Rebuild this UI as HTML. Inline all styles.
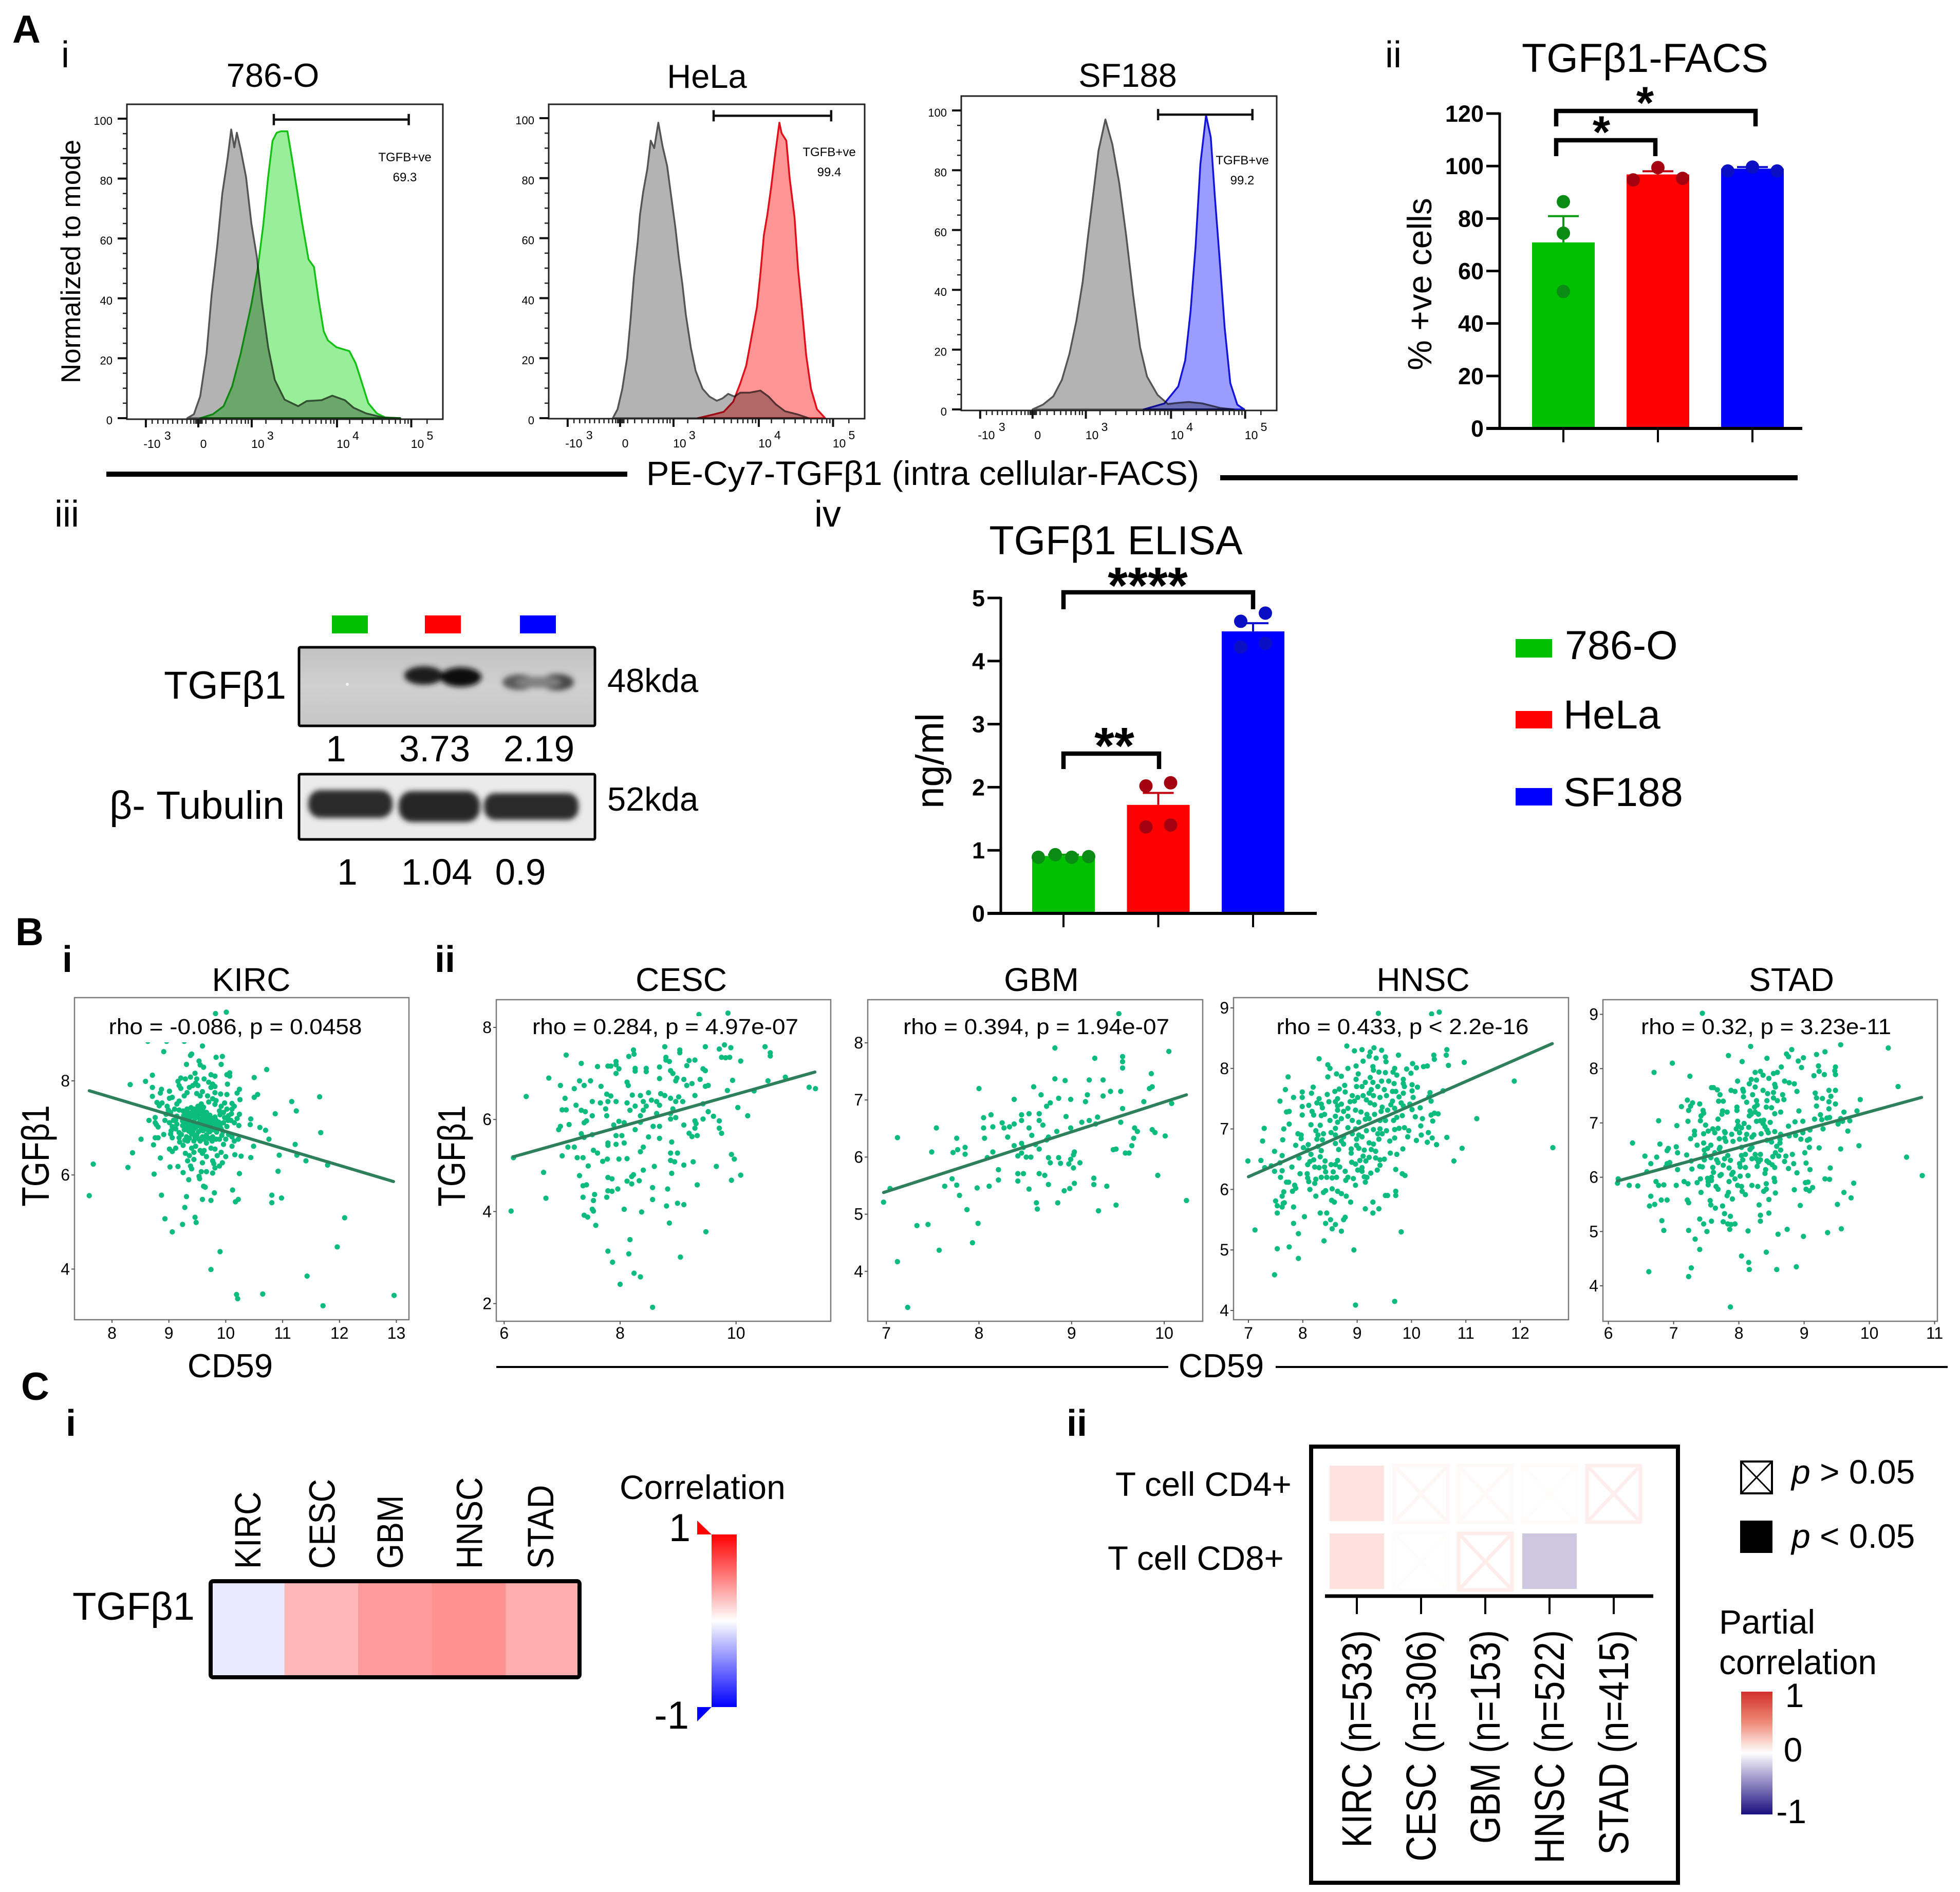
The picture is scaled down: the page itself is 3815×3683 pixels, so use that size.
<!DOCTYPE html>
<html lang="en">
<head>
<meta charset="utf-8">
<title>TGFβ1 expression figure</title>
<style>
html,body{margin:0;padding:0;background:#fff;width:3815px;height:3683px;overflow:hidden}
svg{display:block}
text{font-family:"Liberation Sans",sans-serif;fill:#000}
.b{font-weight:700}
</style>
</head>
<body>
<svg id="figure" xmlns="http://www.w3.org/2000/svg" width="3815" height="3683" viewBox="0 0 3815 3683">
<defs>
<filter id="bandBlur" x="-30%" y="-60%" width="160%" height="220%"><feGaussianBlur stdDeviation="5"/></filter>
<linearGradient id="corrGrad" x1="0" y1="0" x2="0" y2="1"><stop offset="0" stop-color="#ff0000"/><stop offset=".5" stop-color="#ffffff"/><stop offset="1" stop-color="#0000ff"/></linearGradient>
<linearGradient id="partialGrad" x1="0" y1="0" x2="0" y2="1"><stop offset="0" stop-color="#d2302a"/><stop offset=".25" stop-color="#ee8a78"/><stop offset=".5" stop-color="#ffffff"/><stop offset=".75" stop-color="#8d84c0"/><stop offset="1" stop-color="#1a0f80"/></linearGradient>
<linearGradient id="blot1Grad" x1="0" y1="0" x2="0" y2="1"><stop offset="0" stop-color="#c2c2c2"/><stop offset=".5" stop-color="#d0d0d0"/><stop offset="1" stop-color="#c6c6c6"/></linearGradient>
<clipPath id="blot1Clip"><rect x="582" y="1260" width="576" height="153"/></clipPath>
<clipPath id="blot2Clip"><rect x="582" y="1507" width="576" height="127"/></clipPath>
</defs>
<rect width="3815" height="3683" fill="#fff"/>

<text class="b" x="24" y="83" font-size="76">A</text>
<text x="127" y="131" font-size="72" text-anchor="middle">i</text>
<text x="2712" y="131" font-size="72" text-anchor="middle">ii</text>
<text x="130" y="1025" font-size="72" text-anchor="middle">iii</text>
<text x="1611" y="1025" font-size="72" text-anchor="middle">iv</text>
<text class="b" x="30" y="1840" font-size="76">B</text>
<text class="b" x="131" y="1892" font-size="72" text-anchor="middle">i</text>
<text class="b" x="866" y="1892" font-size="72" text-anchor="middle">ii</text>
<text class="b" x="41" y="2725" font-size="76">C</text>
<text class="b" x="138" y="2795" font-size="72" text-anchor="middle">i</text>
<text class="b" x="2096" y="2795" font-size="72" text-anchor="middle">ii</text>

<text transform="rotate(-90 156 509)" x="156" y="509" font-size="53" text-anchor="middle">Normalized to mode</text>
<rect x="207" y="918" width="1014" height="10" fill="#000"/>
<text x="1258" y="944" font-size="66" textLength="1076" lengthAdjust="spacingAndGlyphs">PE-Cy7-TGFβ1 (intra cellular-FACS)</text>
<rect x="2375" y="925" width="1124" height="10" fill="#000"/>

<g>
<rect x="646" y="1198" width="70" height="35" fill="#00c000"/>
<rect x="827" y="1198" width="70" height="35" fill="#ff0000"/>
<rect x="1012" y="1198" width="70" height="35" fill="#0000ff"/>
<rect x="582" y="1260" width="576" height="153" fill="url(#blot1Grad)"/>
<g clip-path="url(#blot1Clip)" filter="url(#bandBlur)">
<ellipse cx="825" cy="1315" rx="38" ry="18" fill="#1c1c1c"/>
<ellipse cx="897" cy="1318" rx="40" ry="19" fill="#111"/>
<ellipse cx="1010" cy="1328" rx="32" ry="15" fill="#5c5c5c"/>
<ellipse cx="1085" cy="1328" rx="32" ry="16" fill="#4a4a4a"/>
<ellipse cx="1048" cy="1328" rx="44" ry="11" fill="#808080"/>
</g>
<circle cx="676" cy="1332" r="3" fill="#f4f4f4"/>
<rect x="582" y="1260" width="576" height="153" rx="3" fill="none" stroke="#000" stroke-width="5"/>
<rect x="582" y="1507" width="576" height="127" fill="#ebebeb"/>
<g clip-path="url(#blot2Clip)" filter="url(#bandBlur)">
<rect x="600" y="1538" width="164" height="54" rx="24" fill="#2b2b2b"/>
<rect x="776" y="1540" width="158" height="60" rx="26" fill="#262626"/>
<rect x="942" y="1544" width="184" height="52" rx="22" fill="#2a2a2a"/>
</g>
<rect x="582" y="1507" width="576" height="127" rx="3" fill="none" stroke="#000" stroke-width="5"/>
<text x="557" y="1360" font-size="76" text-anchor="end">TGFβ1</text>
<text x="554" y="1594" font-size="77" text-anchor="end">β- Tubulin</text>
<text x="1182" y="1347" font-size="65">48kda</text>
<text x="1182" y="1578" font-size="65">52kda</text>
<text x="654" y="1482" font-size="71" text-anchor="middle">1</text>
<text x="846" y="1482" font-size="71" text-anchor="middle">3.73</text>
<text x="1049" y="1482" font-size="71" text-anchor="middle">2.19</text>
<text x="676" y="1722" font-size="71" text-anchor="middle">1</text>
<text x="850" y="1722" font-size="71" text-anchor="middle">1.04</text>
<text x="1013" y="1722" font-size="71" text-anchor="middle">0.9</text>
</g>

<g>
<rect x="2950" y="1244" width="71" height="36" fill="#00c000"/>
<text x="3046" y="1283" font-size="79">786-O</text>
<rect x="2950" y="1384" width="71" height="34" fill="#ff0000"/>
<text x="3043" y="1418" font-size="79">HeLa</text>
<rect x="2950" y="1534" width="71" height="34" fill="#0000ff"/>
<text x="3043" y="1569" font-size="79">SF188</text>
</g>

<text x="448" y="2681" font-size="65" text-anchor="middle">CD59</text>
<rect x="966" y="2659" width="1308" height="4" fill="#000"/>
<text x="2377" y="2681" font-size="65" text-anchor="middle">CD59</text>
<rect x="2483" y="2659" width="1308" height="4" fill="#000"/>
<text transform="translate(95 2250) rotate(-90) scale(1 1.19)" font-size="63" text-anchor="middle">TGFβ1</text>
<text transform="translate(905 2250) rotate(-90) scale(1 1.19)" font-size="63" text-anchor="middle">TGFβ1</text>

<text x="141" y="3153" font-size="76">TGFβ1</text>
<text x="1206" y="2918" font-size="66">Correlation</text>
<polygon points="1357,2960 1385,2987 1357,2987" fill="#ff0000"/>
<rect x="1385" y="2987" width="49" height="336" fill="url(#corrGrad)"/>
<polygon points="1357,3323 1385,3323 1357,3351" fill="#0000ff"/>
<text x="1323" y="3000" font-size="76" text-anchor="middle">1</text>
<text x="1341" y="3365" font-size="76" text-anchor="end">-1</text>

<text x="2171" y="2912" font-size="65.5">T cell CD4+</text>
<text x="2156" y="3056" font-size="65.5">T cell CD8+</text>
<g>
<rect x="3389" y="2845" width="60" height="62" fill="#fff" stroke="#000" stroke-width="4"/>
<path d="M3389 2845L3449 2907M3449 2845L3389 2907" stroke="#000" stroke-width="3" fill="none"/>
<text x="3487" y="2888" font-size="66"><tspan font-style="italic">p</tspan> &gt; 0.05</text>
<rect x="3387" y="2960" width="63" height="63" fill="#000"/>
<text x="3487" y="3013" font-size="66"><tspan font-style="italic">p</tspan> &lt; 0.05</text>
</g>
<text x="3346" y="3180" font-size="66">Partial</text>
<text x="3346" y="3259" font-size="68" textLength="307" lengthAdjust="spacingAndGlyphs">correlation</text>
<rect x="3389" y="3293" width="61" height="239" fill="url(#partialGrad)"/>
<text x="3493" y="3323" font-size="66" text-anchor="middle">1</text>
<text x="3490" y="3429" font-size="66" text-anchor="middle">0</text>
<text x="3516" y="3549" font-size="66" text-anchor="end">-1</text>
</svg>

<script>
// ---------- FACS histograms (channel 0-1000 across the axis, % of mode) ----------
const facsTickChannels=[60,226,395,665,900];
const facsTickBase=['-10','0','10','10','10'];
const facsTickExp=['3','','3','4','5'];
const facsMinorChannels=[80,98,115,130,145,160,175,190,202,212,218,222,230,234,238,250,272,295,315,332,348,362,375,384,440,490,525,555,578,598,615,630,645,655,705,745,780,808,830,850,865,880,890,950];
const facsPercentTicks=[0,20,40,60,80,100];
const facsPercentMinor=[5,10,15,25,30,35,45,50,55,65,70,75,85,90,95];

const o786GrayChannel=[191,212,232,252,268,286,302,319,330,340,348,360,377,394,411,427,447,468,499,542,569,616,650,690,717,757,811,865];
const o786GrayMode=[0,1.3,7.3,21.5,41,57.6,75,87,96.4,90.4,95.3,89.8,80.5,65,54,39,23.7,12.8,6.2,4,5.7,6,7.5,6,3.5,1.6,.2,0];
const o786StainChannel=[232,272,306,333,360,394,414,431,447,461,474,488,508,522,535,555,575,592,606,623,636,663,704,724,744,764,791,818,865];
const o786StainMode=[0,1.3,4,10.6,21.5,38,50,64,80.5,92.6,95.3,95.8,95.8,87,78.4,65,53,50.5,40,29,26,23.7,22.4,18.3,11.7,5,1.6,.2,0];
const helaGrayChannel=[203,218,233,248,259,270,282,289,299,312,323,334,347,360,375,388,401,412,423,434,450,465,487,509,532,550,568,588,606,636,670,696,718,748,786,823];
const helaGrayMode=[0,3,9.8,20,32.8,47.3,59,67.8,75.4,83,92.5,90,98.5,90.8,84,73.7,63.5,53.3,44.8,34.5,23.4,15.8,9.8,7.2,5.8,6.6,8.1,7.2,8.5,8.5,9.2,7.2,4.7,2.3,1.3,0];
const helaStainChannel=[472,524,554,584,606,625,640,659,670,681,692,704,715,730,737,752,763,778,789,801,815,830,849,875];
const helaStainMode=[0,1.3,2.1,5.5,11.5,17.5,26,37,48,61,67.8,77,86.5,98.5,95,92.5,79.7,67,50,37,20.9,9.8,3,0];
const sfGrayChannel=[226,259,292,319,343,365,385,402,420,435,457,479,501,523,545,567,589,622,655,688,721,765,820,864];
const sfGrayMode=[0,1.6,4.4,9.9,18.6,29.6,42.7,58,73.4,86.5,97,88.7,75.6,58,38.3,20.8,11,4.9,1.8,2.2,2.5,2,.5,0];
const sfStainChannel=[578,644,688,710,727,743,758,776,791,804,820,835,853,875,897];
const sfStainMode=[0,2,7.7,16.4,32.9,54.8,82,98.4,91,71,49,27.4,8.8,1.6,0];

// ---------- bar charts ----------
const facsBarCategories=['786-O','HeLa','SF188'];
const facsBarValues=[70.9,96.8,99];
const facsBarErrors=[10,1.2,0.6];
const facsDots786=[86.4,74.4,52.2];
const facsDotsHela=[94.7,99.4,95.3];
const facsDotsSf=[98.1,99.6,98.1];
const facsTicks=[0,20,40,60,80,100,120];
const elisaCategories=['786-O','HeLa','SF188'];
const elisaValues=[0.91,1.72,4.47];
const elisaErrors=[0.02,0.19,0.13];
const elisaDots786=[0.89,0.93,0.89,0.90];
const elisaDotsHela=[2.02,2.07,1.37,1.40];
const elisaDotsSf=[4.63,4.76,4.22,4.28];
const elisaTicks=[0,1,2,3,4,5];

// ---------- scatter data: [CD59, TGFB1] ----------
const kircPoints=[[7.6,5.56],[7.67,6.23],[8.36,6.47],[8.28,6.16],[8.32,7.92],[8.59,7.99],[8.71,8.12],[8.91,8.62],[9.59,8.74],[9.82,9.43],[10.01,9.46],[9.38,8.54],[9.4,8.57],[9.83,8.5],[9.94,8.52],[9.31,8.35],[9.53,8.42],[9.55,8.34],[9.61,8.29],[9.92,8.35],[10.72,8.24],[10.5,8.07],[10.5,7.65],[10.56,7.71],[11.65,7.66],[11.16,7.56],[10.87,7.3],[11.24,7.36],[11.67,6.9],[11.22,6.65],[10.94,6.42],[8.63,8.84],[8.96,8.84],[9.27,8.84],
[9.21,8.06],[9.29,8.04],[9.16,7.99],[9.18,7.9],[9.21,7.84],[9.38,8.08],[9.46,8.16],[9.49,8.04],[9.62,8.04],[9.74,8.13],[9.81,8.1],[10.02,8.13],[10.07,8.17],[10.07,8.1],[9.42,7.9],[9.47,7.95],[9.36,7.86],[9.51,7.9],[9.7,7.97],[9.77,7.93],[9.81,7.88],[9.74,7.86],[10.03,7.93],[8.87,7.82],[8.85,7.74],[9.01,7.78],[8.71,7.86],[8.71,7.67],[9.06,7.65],[9.01,7.63],[9.32,7.75],[9.27,7.68],[9.49,7.73],[9.59,7.77],[9.68,7.68],[9.81,7.75],[9.91,7.72],[10.02,7.71],[10.24,7.82],[10.2,7.74],[10.25,7.6],[9.77,7.62],[9.83,7.58],[9.81,7.5],[9.7,7.55],[9.55,7.68],[9.18,7.57],[9.14,7.51],[8.79,7.54],[8.83,7.47],[8.88,7.53],[8.97,7.46],[9.98,7.53],[10.11,7.52],[10.15,7.46],[9.92,7.46],[10.02,7.4],[10.11,7.4],[9.89,7.36],[9.96,7.33],[10.24,7.29],[10.2,7.2],[8.99,7.38],[9.03,7.33],[9.1,7.4],[9.18,7.38],[8.95,7.29],[8.76,7.22],[8.65,7.16],[8.76,7.11],[8.78,7.07],[8.81,7.02],[8.93,7.16],[9.01,7.11],[9.08,7.16],[9.14,7.25],
[9.57,7.51],[9.51,7.46],[9.61,7.44],[9.44,7.4],[9.32,7.4],[9.55,7.38],[9.66,7.33],[9.29,7.31],[9.38,7.31],[9.47,7.29],[9.59,7.27],[9.72,7.27],[9.27,7.22],[9.36,7.2],[9.46,7.2],[9.55,7.18],[9.64,7.18],[9.77,7.2],[9.83,7.16],[9.29,7.11],[9.4,7.09],[9.51,7.09],[9.62,7.07],[9.74,7.07],[9.85,7.05],[9.31,7],[9.44,6.98],[9.57,6.98],[9.68,6.96],[9.79,6.96],[9.92,6.98],[9.96,7.11],[10.04,7.16],[10.09,7.16],[10.15,7.11],[10.23,7.05],[10.02,7.03],[9.34,7.26],[9.42,7.35],[9.52,7.33],[9.6,7.22],[9.7,7.12],[9.35,7.05],[9.48,7.02],[9.58,7.13],
[9.25,7.36],[9.33,7.34],[9.39,7.43],[9.47,7.37],[9.53,7.42],[9.6,7.36],[9.64,7.28],[9.7,7.22],[9.26,7.26],[9.31,7.17],[9.41,7.25],[9.5,7.24],[9.56,7.3],[9.63,7.23],[9.68,7.27],[9.76,7.14],[9.81,7.23],[9.24,7.15],[9.34,7.13],[9.44,7.14],[9.54,7.13],[9.6,7.15],[9.66,7.09],[9.73,7.17],[9.8,7.1],[9.88,7.12],[9.24,7.05],[9.38,7.01],[9.46,7.06],[9.55,7.04],[9.64,7.02],[9.72,7.01],[9.82,7.01],[9.9,7.04],[9.27,6.96],[9.35,6.93],[9.42,6.92],[9.52,6.92],[9.6,6.94],[9.72,6.92],[9.84,6.91],[9.95,6.92],[9.22,6.86],[9.28,6.74],[9.36,6.78],[9.46,6.8],[9.52,6.77],[9.62,6.76],[9.7,6.78],[9.83,6.76],[9.93,6.84],[10.05,6.86],[10.05,7.26],[9.98,7.22],[9.9,7.28],[10.1,7.3],[9.14,7.08],[9.12,7.17],[9.06,7.03],[9.12,6.98],
[9.04,6.94],[9.03,6.87],[8.91,6.86],[9.06,6.79],[8.76,6.79],[8.81,6.79],[8.51,6.76],[8.73,6.64],[9.18,6.9],[9.18,6.79],[9.19,6.7],[9.25,6.63],[9.31,6.81],[9.4,6.87],[9.49,6.85],[9.59,6.81],[9.66,6.85],[9.77,6.81],[9.33,6.72],[9.44,6.72],[9.55,6.72],[9.66,6.68],[9.76,6.72],[9.89,6.76],[10,6.76],[9.96,6.65],[10.11,6.81],[10.22,6.76],[10.15,6.72],[10.11,6.61],[9.47,6.61],[9.4,6.57],[9.55,6.52],[9.74,6.57],[9.81,6.55],[9.62,6.52],[9.01,6.55],[9.06,6.5],[9.12,6.57],[9.29,6.46],[9.36,6.41],[9.44,6.48],[9.59,6.46],[9.66,6.39],[9.92,6.48],[9.85,6.41],[10,6.39],[10.16,6.43],[10.27,6.4],[10.44,6.37],[9.33,6.3],[9.44,6.33],[9.59,6.26],[9.77,6.3],[9.79,6.24],[9.94,6.26],[9.89,6.19],[9.38,6.19],[9.4,6.13],[8.85,6.36],[9.02,6.17],[9.16,6.18],[8.74,6.02],[9.25,6.05],[9.57,6.07],[9.66,6.07],[9.77,6.04],[9.81,6.15],[10.24,6.03],[9.53,5.97],[9.54,5.92],[9.35,5.9],[9.61,5.76],[9.64,5.74],[9.8,5.62],[10.12,5.68],[8.87,5.57],[9.31,5.54],[9.59,5.48],[9.74,5.46],[10.17,5.43],[10.22,5.48],[9.28,5.31],[8.93,5.07],[9.46,5.1],[9.48,4.99],[9.24,4.95],[9.06,4.79],[9.9,4.37],[9.74,3.99],[10.19,3.46],[10.21,3.37],[10.65,3.47],[11.43,3.85],[11.71,3.22],[11.96,4.47],[12.09,5.09],[12.96,3.44],[10.44,7.19],[10.43,7.07],[10.6,7.01],[10.7,6.95],[10.76,6.76],[10.49,6.61],[11.25,6.42],[11.41,6.3],[11.79,6.21],[10.92,6.08],[10.81,5.57],[10.81,5.41],[10.98,5.51]];
const kircFitX=[7.6,12.95];
const kircFitY=[7.79,5.86];

const cescPoints=[[9.36,8.28],[9.86,8.31],[9.8,7.62],[9.47,7.58],[9.91,7.56],[9.71,7.53],[10.5,7.58],[8.77,7.58],[8.23,7.51],[8.24,7.42],[9.03,7.51],[9.03,7.45],[10.59,7.45],[10.59,7.38],[7.07,7.4],[8.15,7.37],[9.75,7.35],[9.82,7.34],[9.89,7.35],[8.79,7.35],[8.79,7.29],[8.85,7.26],[7.33,7.22],[7.93,7.26],[7.79,7.16],[7.61,7.15],[7.84,7.16],[9.29,7.29],[9.19,7.28],[9.15,7.17],[10.08,7.27],[7.93,7.19],[8.26,7.11],[8.45,7.11],[8.45,7.04],[8.68,7.14],[8.87,7.06],[9.43,7.1],[9.47,7.06],[8.91,7],[8.26,7.05],[7.98,7.1],[7.93,7],
[6.77,6.9],[10.85,6.92],[10.55,6.84],[9.94,6.85],[8.68,6.89],[8.98,6.9],[9.1,6.87],[8.96,6.84],[9.38,6.87],[9.24,6.78],[9.15,6.74],[9.52,6.74],[9.47,6.72],[7.3,6.84],[7.49,6.84],[6.97,6.74],[7.21,6.67],[7.38,6.74],[7.67,6.72],[8.12,6.81],[8.14,6.74],[9.85,6.63],[10.31,6.62],[11.26,6.7],[11.37,6.67],[6.38,6.5],[7.05,6.46],[7.77,6.55],[7.84,6.51],[8.21,6.53],[8.35,6.52],[8.49,6.58],[8.7,6.56],[8.77,6.52],[9.01,6.49],[9.29,6.52],[7.52,6.39],[7.66,6.36],[7.79,6.39],[7.93,6.39],[8.12,6.36],[8.4,6.39],[8.54,6.42],[8.63,6.39],[8.87,6.46],[8.96,6.39],[9.08,6.39],[7.24,6.31],[8.26,6.29],[8.45,6.29],[8.68,6.31],[9.43,6.34],[10.03,6.26],
[7,6.21],[7.07,6.21],[7.33,6.2],[7.4,6.17],[7.75,6.23],[8.17,6.2],[8.4,6.2],[8.91,6.23],[8.87,6.13],[9.52,6.17],[10.2,6.08],[7.52,6.08],[7.77,6.08],[8.35,6.08],[8.63,6.13],[8.96,6.04],[9.61,6.07],[9.43,6.01],[7.42,5.97],[7.98,5.96],[8.07,5.93],[8.35,5.94],[8.87,6.01],[9.29,5.97],[9.71,5.97],[7.12,5.89],[7.38,5.93],[7.89,5.88],[8.68,5.85],[8.57,5.85],[9.1,5.88],[9.31,5.91],[6.94,5.78],[6.97,5.85],[8.26,5.78],[9.29,5.81],[9.71,5.81],[9.19,5.7],[9.75,5.7],[7.33,5.69],[7.52,5.67],[7.93,5.65],[8.03,5.65],[8.49,5.62],[8.68,5.59],[9.24,5.63],[9.33,5.65],[7.38,5.61],[8.89,5.51],[7.79,5.49],[7.93,5.46],[8.07,5.49],[7.1,5.4],[7.21,5.4],[7.79,5.44],[8.4,5.4],[7.54,5.33],[7.61,5.27],[8.35,5.3],[8.87,5.27],[8.99,5.27],[7,5.21],[9.92,5.24],[7.26,5.17],[7.36,5.17],[7.78,5.14],[7.98,5.14],[8.12,5.15],[9.97,5.14],[6.16,5.17],[7.7,5.09],[8.87,5.11],[8.94,5.08],[9.26,5.08],[9.1,5.01],[7.45,4.99],[8.59,4.98],[9.66,4.98],[6.68,4.85],[8.89,4.83],[8.23,4.8],[8.2,4.76],[7.3,4.78],[8.4,4.9],[10.08,4.79],[7.79,4.74],[7.86,4.71],[9.92,4.68],[8.12,4.66],[8.33,4.67],[7.42,4.58],[7.36,4.56],[9.33,4.58],[8.2,4.6],[8.56,4.52],[8.82,4.49],[7.79,4.45],[7.86,4.44],[7.96,4.49],[7.56,4.37],[8.56,4.26],[6.72,4.29],[7.36,4.31],[7.77,4.31],[7.54,4.24],[8.99,4.18],[9.1,4.15],[8.8,4.12],[6.12,4.01],[7.52,4.05],[7.54,4.01],[8.07,4.05],[8.37,3.99],[7.38,3.92],[7.44,3.88],[8.85,3.75],[7.58,3.7],[9.48,3.56],[8.17,3.39],[7.79,3.14],[8.15,3.08],[9.04,3.01],[7.87,2.9],[8.24,2.66],[8.35,2.58],[8,2.42],[8.56,1.92]];
const cescFitX=[6.16,11.36];
const cescFitY=[5.19,7.03];

const gbmPoints=[[9.51,8.51],[8.82,7.91],[10.05,7.85],[9.25,7.73],[9.55,7.76],[9.55,7.67],[9.55,7.56],[9.86,7.46],[8.82,7.37],[8.93,7.34],[9.19,7.35],[9.34,7.35],[8.59,7.23],[8,7.2],[9.84,7.2],[9.87,7.23],[9.42,7.15],[9.53,7.15],[8.67,7.09],[9.17,7.09],[9.34,7.07],[8.86,7.03],[8.99,7.01],[9.15,6.97],[8.38,7.01],[9.78,6.97],[10.08,6.94],[8.77,6.95],[8.73,6.89],[9.55,6.85],[7.12,6.34],[7.76,6.33],[8.05,6.69],[8.13,6.74],[8.05,6.51],[7.54,6.51],[8.25,6.6],[8.15,6.53],[8.27,6.51],[8.33,6.53],[8.38,6.58],[8.46,6.74],[8.54,6.76],[8.65,6.76],[8.46,6.64],[8.65,6.64],[8.69,6.56],[8.54,6.51],[8.31,6.35],[8.06,6.33],[8.38,6.2],[8.46,6.24],[8.61,6.22],[8.73,6.3],[8.84,6.45],[8.99,6.51],[8.94,6.71],[9.11,6.61],[9.19,6.64],[9.28,6.7],[9.26,6.58],[9.53,6.61],[9.68,6.51],[9.71,6.45],[9.87,6.48],[9.9,6.43],[10.01,6.37],[9.67,6.33],[9.65,6.2],[9.48,6.14],[9.45,6.13],[9.58,6.07],[9.62,6.07],[8.75,6.35],[8.57,6.38],[8.65,6.14],[8.48,6.17],[8.46,6.07],[8.42,6.02],[8.51,6],[8.56,6],[8.75,5.99],[8.86,5.99],[9.02,6.04],[9.03,6.09],[8.99,5.96],[8.77,5.9],[8.88,5.89],[8.97,5.88],[9.09,5.9],[9.02,5.81],[7.49,6.09],[7.72,6.08],[7.77,6.13],[7.85,6.17],[7.85,6.05],[8.09,5.99],[8.15,6.09],[8.21,5.78],[8.21,5.6],[8.42,5.71],[8.42,5.58],[8.48,5.71],[8.54,5.44],[8.65,5.71],[8.71,5.68],[8.75,5.52],[8.92,5.41],[8.98,5.45],[9.03,5.54],[9.24,5.63],[9.24,5.52],[9.38,5.49],[7.71,5.62],[7.63,5.49],[7.76,5.51],[7.79,5.33],[7.98,5.46],[8.11,5.49],[9.93,5.68],[7.04,5.45],[6.97,5.21],[10.24,5.24],[8.62,5.2],[8.63,5.09],[8.85,5.2],[9.48,5.16],[9.29,5.06],[7.87,5.08],[7.99,4.84],[7.33,4.8],[7.45,4.82],[7.93,4.5],[7.57,4.37],[7.12,4.17],[7.23,3.37]];
const gbmFitX=[6.97,10.24];
const gbmFitY=[5.38,7.09];

const hnscPoints=[[9.39,8.91],[10.37,8.9],[10.51,8.93],[8.81,8.37],[8.95,8.29],[9.09,8.31],[9.31,8.34],[9.45,8.3],[9.24,8.27],[9.22,8.2],[9.35,8.17],[9.11,8.12],[9.52,8.19],[9.53,8.11],[9.76,8.22],[8.3,8.16],[10.65,8.31],[10.64,8.22],[10.41,8.22],[10.42,8.15],[10.68,8.05],[10.97,8.1],[8.46,8.06],[8.5,8],[8.83,8],[8.98,8.04],[9.29,8.03],[9.3,7.97],[9.4,7.94],[9.52,7.93],[9.69,8],[9.66,7.94],[9.73,7.89],[9.91,7.99],[10.02,8.08],[10.09,8.01],[10.22,8.03],[10.29,8.04],[9.99,7.92],[7.73,7.86],[8.46,7.86],[8.62,7.91],[8.71,7.87],[9.02,7.91],[8.98,7.82],[9.24,7.85],[9.45,7.79],[9.29,7.77],[9.15,7.77],[9.58,7.79],[9.68,7.75],[9.85,7.82],[9.85,7.75],[9.87,7.7],[10.01,7.73],[10.11,7.69],[7.68,7.65],[8.19,7.69],[7.99,7.61],[8.16,7.59],[8.59,7.62],[8.67,7.66],[8.77,7.72],[8.78,7.61],[8.99,7.7],[9.09,7.7],[9.26,7.65],[9.38,7.7],[9.5,7.65],[9.65,7.62],[9.71,7.62],[9.85,7.59],[10.01,7.63],[10.34,7.6],[10.58,7.63],[7.83,7.52],[7.99,7.52],[7.58,7.46],[8.3,7.5],[8.45,7.57],[8.64,7.5],[8.91,7.55],[9.01,7.52],[9.11,7.55],[9.22,7.59],[9.3,7.55],[9.42,7.52],[9.54,7.55],[9.77,7.53],[10.32,7.53],[10.36,7.46],[10.03,7.52],[8.26,7.43],[8.34,7.41],[8.48,7.45],[8.6,7.45],[8.71,7.41],[8.87,7.45],[8.95,7.46],[9.17,7.48],[9.24,7.43],[9.32,7.4],[9.46,7.36],[9.62,7.4],[9.65,7.46],[9.81,7.43],[9.85,7.38],[9.97,7.41],[8.11,7.39],[7.99,7.37],[7.7,7.28],[7.75,7.29],[8.17,7.29],[8.2,7.23],[7.99,7.23],[8.36,7.35],[8.34,7.22],[8.4,7.24],[8.64,7.38],[8.64,7.31],[8.75,7.29],[8.83,7.34],[8.97,7.31],[9.07,7.28],[9.18,7.24],[9.32,7.24],[9.44,7.29],[9.56,7.31],[9.69,7.34],[10.01,7.32],[10.16,7.35],[10.36,7.23],[10.42,7.26],[10.49,7.25],[10.07,7.2],[10.2,7.17],[11.2,7.17],[11.89,7.79],[8.6,7.21],[8.71,7.17],[8.83,7.21],[8.91,7.14],[9.03,7.11],[9.15,7.16],[9.22,7.17],[9.42,7.14],[9.52,7.14],[9.67,7.14],[9.83,7.22],[9.73,7.19],[10.39,7.13],[8.64,7.11],[8.5,7.14],[7.75,7.08],[7.65,7],[7.29,7.01],[8.15,7.07],[8.32,7.06],[8.6,7.01],[8.83,7.02],[8.97,7],[9.17,6.97],[9.3,6.99],[9.42,7],[9.54,6.97],[9.69,6.99],[9.77,7.01],[9.87,7.02],[9.95,6.97],[10.17,7.05],[7.91,6.92],[7.97,6.9],[8.24,6.97],[8.28,6.9],[8.38,6.92],[8.52,6.94],[8.6,6.9],[8.75,6.87],[8.91,6.92],[9.03,6.9],[9.38,6.92],[9.46,6.92],[9.6,6.8],[9.69,6.85],[9.93,6.87],[10.18,6.9],[10.31,6.94],[7.26,6.8],[7.63,6.82],[7.97,6.84],[8.26,6.83],[8.36,6.82],[8.71,6.8],[8.99,6.83],[9.09,6.87],[9.4,6.83],[10.09,6.81],[10.29,6.78],[10.38,6.85],[10.65,6.86],[10.46,6.74],[7.87,6.73],[8.1,6.74],[8.01,6.69],[8.28,6.71],[8.6,6.76],[8.75,6.75],[8.99,6.73],[9.22,6.77],[9.3,6.75],[10.93,6.68],[12.6,6.69],[7.48,6.63],[8.09,6.65],[8.34,6.64],[8.66,6.66],[8.89,6.67],[9.03,6.68],[9.13,6.65],[9.26,6.66],[9.34,6.63],[9.61,6.6],[9.73,6.58],[9.84,6.67],[8.89,6.6],[7.62,6.56],[8.15,6.58],[8.32,6.54],[9.11,6.55],[9.22,6.53],[9.34,6.52],[6.99,6.47],[7.23,6.48],[7.93,6.52],[8.2,6.49],[8.41,6.47],[8.64,6.48],[8.9,6.45],[9.05,6.48],[9.16,6.47],[9.42,6.49],[9.5,6.5],[10.78,6.47],[7.3,6.36],[7.42,6.39],[7.58,6.44],[8.09,6.41],[8.13,6.46],[8.52,6.41],[8.6,6.41],[8.68,6.37],[8.97,6.42],[9.42,6.4],[7.48,6.3],[7.62,6.31],[7.8,6.37],[8.22,6.37],[8.3,6.36],[8.4,6.37],[8.56,6.29],[8.78,6.3],[9.01,6.32],[9.09,6.36],[9.09,6.3],[9.37,6.32],[9.71,6.33],[9.83,6.26],[9.88,6.23],[9.25,6.27],[7.95,6.26],[8.08,6.26],[8.42,6.29],[7.59,6.2],[8.09,6.19],[8.11,6.13],[8.24,6.17],[8.22,6.1],[8.34,6.2],[8.44,6.2],[8.54,6.19],[8.62,6.2],[8.83,6.2],[8.93,6.18],[8.79,6.15],[9.13,6.21],[9.18,6.2],[9.15,6.12],[7.7,6.12],[7.74,6.12],[7.85,6.07],[8.97,6.07],[7.81,5.97],[7.87,6.02],[7.65,5.96],[8.13,6],[8.42,5.98],[8.38,5.95],[8.54,6.01],[8.64,5.97],[8.71,5.93],[8.8,5.89],[8.24,5.89],[7.62,5.89],[9.71,5.97],[9.71,5.9],[9.52,5.9],[9.56,5.9],[7.5,5.81],[7.53,5.73],[7.64,5.77],[7.66,5.78],[7.62,5.71],[7.83,5.71],[8.53,5.82],[8.58,5.79],[8.88,5.79],[9.29,5.79],[9.15,5.68],[9.4,5.68],[9.29,5.61],[7.53,5.61],[8.03,5.55],[8.32,5.61],[8.44,5.61],[8.51,5.5],[8.78,5.54],[8.75,5.5],[7.83,5.44],[8.42,5.44],[8.6,5.42],[8.54,5.35],[8.71,5.31],[7.12,5.33],[7.92,5.27],[9.81,5.3],[8.39,5.15],[8.94,5],[7.53,5.02],[7.75,5.05],[7.92,4.86],[7.48,4.59],[9.69,4.15],[8.97,4.09]];
const hnscFitX=[7,12.59];
const hnscFitY=[6.21,8.41];

const stadPoints=[[7.44,9.02],[9.56,8.44],[10.29,8.38],[8.18,8.41],[8.81,8.35],[8.73,8.27],[8.76,8.22],[7.84,8.24],[9.19,8.26],[9.32,8.31],[8.43,8.19],[8.99,8.2],[8.91,8.14],[8.05,8.13],[6.98,8.1],[6.7,7.93],[7.25,7.86],[8.65,8.03],[8.96,8.02],[9.22,8.05],[9.48,8.03],[9.47,7.96],[9.48,7.89],[9.23,7.95],[9.31,7.89],[9.15,7.87],[8.25,7.93],[8.33,7.95],[8.37,7.88],[8.53,7.91],[8.59,7.93],[8.46,7.82],[8.19,7.8],[8.27,7.79],[8.16,7.72],[8.25,7.66],[7.98,7.77],[8.7,7.77],[8.77,7.74],[8.85,7.72],[8.55,7.71],[8.56,7.66],[10.44,7.67],[7.58,7.65],[7.61,7.65],[7.67,7.61],[7.88,7.6],[7.94,7.58],[8.06,7.62],[8.07,7.58],[8.37,7.6],[8.44,7.54],[8.53,7.56],[8.67,7.52],[8.89,7.58],[9.17,7.55],[9.38,7.6],[9.48,7.6],[9.41,7.49],[7.71,7.52],[8.07,7.48],[8.21,7.52],[9.19,7.46],[9.28,7.45],[9.86,7.43],[7.21,7.42],[7.29,7.37],[7.4,7.35],[7.69,7.4],[7.76,7.4],[8.12,7.38],[8.27,7.41],[8.43,7.41],[8.53,7.46],[8.59,7.41],[8.69,7.43],[9.38,7.39],[9.48,7.35],[7.12,7.3],[7.26,7.31],[7.23,7.23],[7.97,7.29],[7.97,7.23],[8.28,7.33],[8.24,7.29],[8.42,7.29],[8.5,7.28],[9.19,7.31],[9.38,7.26],[7.45,7.23],[7.46,7.18],[7.42,7.13],[7.75,7.22],[7.74,7.16],[7.82,7.2],[8.17,7.22],[8.19,7.16],[8.16,7.13],[8.25,7.2],[8.3,7.16],[8.55,7.17],[8.64,7.2],[8.92,7.22],[9.61,7.2],[9.81,7.22],[9.25,7.15],[9.27,7.06],[9.35,7.09],[9.39,7.1],[9.16,7.07],[9.56,7.08],[9.54,7.03],[9.59,7.03],[9.7,7.04],[9.52,6.98],[6.77,7.04],[7.22,7.03],[7.41,7.04],[7.68,7.07],[8.27,7.03],[8.33,7.04],[8.38,7.05],[8.48,7.01],[8.86,7.02],[8.98,7.03],[7.05,6.95],[7.49,6.96],[7.68,6.9],[7.6,6.89],[7.53,6.85],[7.32,6.85],[7.32,6.78],[7.63,6.82],[7.78,6.84],[7.79,6.82],[7.98,7.03],[7.99,6.95],[7.96,6.89],[8.04,6.91],[8.08,6.99],[8.15,6.92],[8.37,6.99],[8.4,6.93],[8.43,6.87],[8.45,6.82],[8.55,6.84],[8.76,6.94],[9.29,6.89],[9.67,6.85],[9.09,6.87],[8.98,6.82],[7.46,6.8],[7.89,6.79],[8.01,6.82],[8.12,6.79],[8.23,6.78],[8.34,6.8],[8.64,6.79],[8.77,6.76],[8.87,6.77],[7.26,6.71],[7.7,6.71],[7.78,6.72],[7.8,6.66],[7.91,6.66],[8.01,6.7],[8.1,6.7],[8.2,6.74],[8.43,6.68],[8.63,6.7],[8.63,6.63],[8.5,6.65],[8.95,6.7],[9.05,6.68],[9.08,6.7],[6.37,6.63],[6.79,6.61],[7.36,6.59],[7.46,6.63],[7.57,6.59],[7.04,6.56],[6.92,6.53],[6.9,6.49],[7.06,6.45],[7.47,6.5],[7.52,6.53],[7.71,6.55],[7.7,6.52],[8.04,6.55],[8.2,6.55],[8.17,6.51],[8.58,6.57],[8.64,6.5],[9.08,6.55],[9.23,6.54],[9.56,6.52],[9.84,6.58],[9.01,6.45],[7.2,6.41],[7.48,6.41],[7.57,6.36],[7.63,6.45],[7.83,6.4],[7.78,6.34],[8.04,6.4],[8.1,6.42],[8.25,6.42],[8.33,6.42],[8.56,6.45],[8.52,6.38],[8.61,6.39],[8.72,6.39],[8.82,6.42],[10.57,6.37],[6.56,6.39],[6.74,6.37],[6.65,6.25],[6.9,6.25],[6.94,6.27],[7.27,6.3],[7.47,6.32],[7.66,6.32],[7.68,6.27],[7.87,6.31],[8.06,6.32],[8.01,6.25],[8.2,6.34],[8.27,6.34],[8.3,6.28],[8.33,6.32],[8.43,6.3],[8.46,6.27],[8.7,6.29],[8.84,6.25],[9.03,6.26],[6.59,6.1],[6.88,6.19],[7.06,6.14],[7.28,6.15],[7.4,6.2],[7.44,6.19],[7.76,6.22],[7.6,6.18],[7.61,6.09],[7.85,6.17],[7.91,6.09],[8.02,6.19],[8.1,6.18],[8.28,6.2],[8.51,6.23],[8.55,6.18],[8.41,6.14],[8.4,6.07],[8.76,6.16],[9.09,6.14],[9.4,6.17],[8.89,6.08],[6.15,5.97],[6.14,5.89],[6.32,5.85],[6.45,5.84],[6.73,5.92],[6.77,5.85],[6.85,5.86],[7.04,5.85],[7.16,5.92],[7.22,5.88],[7.36,5.9],[7.41,5.97],[7.52,5.98],[7.58,6],[7.53,5.92],[7.58,5.94],[7.53,5.86],[7.71,6.03],[7.73,6.05],[7.89,6.05],[7.94,5.97],[8.02,6.02],[8.14,6.03],[7.85,5.92],[8.54,5.98],[8.55,5.92],[9.32,5.97],[9.39,5.96],[10.81,6.03],[9.76,5.89],[9.02,5.9],[9.06,5.91],[7.98,5.85],[8.04,5.83],[8.2,5.85],[8.29,5.83],[8.42,5.88],[7.65,5.83],[7.68,5.78],[8.42,5.78],[8.38,5.74],[8.85,5.77],[9.03,5.78],[9.08,5.75],[9.13,5.81],[7.42,5.72],[7.84,5.72],[7.82,5.66],[8.05,5.74],[8.1,5.68],[8.56,5.71],[9.61,5.72],[9.72,5.62],[6.65,5.65],[6.81,5.58],[6.9,5.58],[7.21,5.58],[7.23,5.53],[7.56,5.57],[7.9,5.6],[8.46,5.59],[6.63,5.47],[6.71,5.5],[7.57,5.49],[7.64,5.43],[7.75,5.47],[8.31,5.49],[8.94,5.48],[9.51,5.5],[7.78,5.33],[8.46,5.34],[8.33,5.3],[7.87,5.28],[7.4,5.23],[6.82,5.2],[7.58,5.19],[8.33,5.19],[7.46,5.14],[7.76,5.18],[7.83,5.14],[7.88,5.13],[7.94,5.14],[7.86,5.04],[6.85,5.02],[7.23,5.02],[7.51,5],[8.14,5.01],[8.74,5.04],[9.57,5.05],[9.36,4.98],[8.6,4.95],[8.99,4.91],[7.33,4.86],[7.4,4.67],[8.04,4.55],[8.42,4.62],[8.15,4.43],[8.16,4.3],[8.58,4.3],[8.88,4.35],[7.27,4.33],[7.23,4.17],[6.62,4.26],[7.87,3.61]];
const stadFitX=[6.14,10.8];
const stadFitY=[5.93,7.47];

// ---------- heatmaps ----------
const cancerTypes=['KIRC','CESC','GBM','HNSC','STAD'];
const correlationValues=[-0.086,0.284,0.394,0.433,0.32];
const partialLabels=['KIRC (n=533)','CESC (n=306)','GBM (n=153)','HNSC (n=522)','STAD (n=415)'];
const cd4Partial=[0.135,0.04,0.03,0.015,0.08];
const cd4Significant=[1,0,0,0,0];
const cd8Partial=[0.15,0.015,0.09,-0.22,0];
const cd8Significant=[1,0,0,1,0];

// ---------- drawing ----------
const NS='http://www.w3.org/2000/svg';
const root=document.getElementById('figure');
function add(parent,tag,attrs,txt){
  const el=document.createElementNS(NS,tag);
  for(const k in attrs){el.setAttribute(k,attrs[k]);}
  if(txt!==undefined){el.textContent=txt;}
  parent.appendChild(el);
  return el;
}
function group(name){
  const g=document.createElementNS(NS,'g');
  
  
  root.appendChild(g);
  return g;
}

function drawHistogram(cfg){
  const g=group(cfg.name+'-histogram');
  const xs=c=>cfg.left+c/1000*(cfg.right-cfg.left);
  const ys=v=>cfg.y0-v/100*(cfg.y0-cfg.y100);
  const areaPath=(chs,vals)=>{
    let d='M'+xs(chs[0]).toFixed(1)+' '+ys(0).toFixed(1);
    chs.forEach((c,i)=>{d+='L'+xs(c).toFixed(1)+' '+ys(vals[i]).toFixed(1);});
    return d+'L'+xs(chs[chs.length-1]).toFixed(1)+' '+ys(0).toFixed(1)+'Z';
  };
  const title=add(g,'text',{x:cfg.titleX,y:cfg.titleY,'font-size':65,'text-anchor':'middle'},cfg.title);
  
  
  const stain=add(g,'path',{d:areaPath(cfg.stainCh,cfg.stainMode),fill:cfg.fill,stroke:cfg.line,'stroke-width':3.5,'stroke-linejoin':'round'});
  
  
  const gray=add(g,'path',{d:areaPath(cfg.grayCh,cfg.grayMode),fill:'#b3b3b3',stroke:'#555',"stroke-width":3.5,'stroke-linejoin':'round',style:'mix-blend-mode:multiply'});
  
  
  const frame=add(g,'rect',{x:cfg.left,y:cfg.top,width:cfg.right-cfg.left,height:cfg.bottom-cfg.top,fill:'none',stroke:'#222','stroke-width':3});
  
  
  facsPercentTicks.forEach(v=>{
    const t=add(g,'line',{x1:cfg.left-18,x2:cfg.left,y1:ys(v),y2:ys(v),stroke:'#111','stroke-width':4});
    
    
    const l=add(g,'text',{x:cfg.left-28,y:ys(v)+12,'font-size':22,'text-anchor':'end',fill:'#222'},String(v));
    
    
  });
  facsPercentMinor.forEach(v=>{
    const t=add(g,'line',{x1:cfg.left-8,x2:cfg.left,y1:ys(v),y2:ys(v),stroke:'#222','stroke-width':2.5});
    
    
  });
  facsTickChannels.forEach((c,i)=>{
    const t=add(g,'line',{x1:xs(c),x2:xs(c),y1:cfg.bottom,y2:cfg.bottom+16,stroke:'#111','stroke-width':4});
    
    
    const l=add(g,'text',{x:xs(c)+(facsTickExp[i]?12:10),y:cfg.bottom+56,'font-size':23,'text-anchor':'middle',fill:'#222'},facsTickBase[i]);
    
    
    if(facsTickExp[i]){
      const e=add(g,'text',{x:xs(c)+(i===0?36:30),y:cfg.bottom+40,'font-size':23,fill:'#222'},facsTickExp[i]);
      
      
    }
  });
  facsMinorChannels.forEach(c=>{
    const t=add(g,'line',{x1:xs(c),x2:xs(c),y1:cfg.bottom,y2:cfg.bottom+9,stroke:'#222','stroke-width':2.5});
    
    
  });
  const gy=ys(cfg.gateLevel), gx1=xs(cfg.gateFrom), gx2=xs(cfg.gateTo);
  const gate=add(g,'path',{d:`M${gx1} ${gy-11}V${gy+11}M${gx1} ${gy}H${gx2}M${gx2} ${gy-11}V${gy+11}`,stroke:'#111','stroke-width':4.5,fill:'none'});
  
  
  const gn=add(g,'text',{x:cfg.gateTextX,y:cfg.gateTextY,'font-size':24,'text-anchor':'middle',fill:'#222'},'TGFB+ve');
  
  
  const gp=add(g,'text',{x:cfg.gateTextX,y:cfg.gateTextY+39,'font-size':24,'text-anchor':'middle',fill:'#222'},cfg.gatePercent);
  
  
}
drawHistogram({name:'786o',title:'786-O',titleX:531,titleY:169,left:247,right:862,top:203,bottom:816,y100:231,y0:814,grayCh:o786GrayChannel,grayMode:o786GrayMode,stainCh:o786StainChannel,stainMode:o786StainMode,fill:'#99ee99',line:'#16c116',gateFrom:465,gateTo:892,gateLevel:99.7,gateTextX:788,gateTextY:314,gatePercent:'69.3'});
drawHistogram({name:'hela',title:'HeLa',titleX:1376,titleY:171,left:1068,right:1683,top:203,bottom:815,y100:230,y0:814,grayCh:helaGrayChannel,grayMode:helaGrayMode,stainCh:helaStainChannel,stainMode:helaStainMode,fill:'#ff9494',line:'#e0101a',gateFrom:522,gateTo:894,gateLevel:100.8,gateTextX:1614,gateTextY:304,gatePercent:'99.4'});
drawHistogram({name:'sf188',title:'SF188',titleX:2195,titleY:169,left:1871,right:2485,top:187,bottom:799,y100:215,y0:797,grayCh:sfGrayChannel,grayMode:sfGrayMode,stainCh:sfStainChannel,stainMode:sfStainMode,fill:'#9a9cff',line:'#1414d8',gateFrom:624,gateTo:923,gateLevel:98.6,gateTextX:2418,gateTextY:320,gatePercent:'99.2'});

const barColors=['#00c000','#ff0000','#0000ff'];
const dotColors=['#0a8c14','#a5000f','#0a0fc4'];
function drawBars(cfg){
  const g=group(cfg.name+'-bar-chart');
  const ys=v=>cfg.y0-v*cfg.unit;
  const cx=i=>cfg.firstX+i*cfg.step;
  const title=add(g,'text',{x:cfg.titleX,y:cfg.titleY,'font-size':79,'text-anchor':'middle'},cfg.title);
  
  
  const yt=add(g,'text',{x:cfg.yTitleX,y:cfg.yTitleY,'font-size':cfg.yTitleSize,'text-anchor':'middle',transform:`rotate(-90 ${cfg.yTitleX} ${cfg.yTitleY})`},cfg.yTitle);
  
  
  cfg.values.forEach((v,i)=>{
    const bar=add(g,'rect',{x:cx(i)-61,y:ys(v),width:122,height:ys(0)-ys(v),fill:barColors[i]});
    
    
    const top=ys(v+cfg.errors[i]);
    const err=add(g,'path',{d:`M${cx(i)} ${ys(v)}V${top}M${cx(i)-30} ${top}H${cx(i)+30}`,stroke:i===0?'#0a9a14':(i===1?'#c0000f':'#0a0fd0'),'stroke-width':4,fill:'none'});
    
    
    cfg.dots[i].forEach((d,j)=>{
      const dot=add(g,'circle',{cx:cx(i)+cfg.offsets[i][j],cy:ys(d),r:13,fill:dotColors[i]});
      
      
    });
    const t=add(g,'line',{x1:cx(i),x2:cx(i),y1:ys(0),y2:ys(0)+27,stroke:'#000','stroke-width':4});
    
    
  });
  const yAxis=add(g,'line',{x1:cfg.axisX,x2:cfg.axisX,y1:ys(cfg.ticks[cfg.ticks.length-1])-2,y2:ys(0)+3,stroke:'#000','stroke-width':5});
  
  
  const xAxis=add(g,'line',{x1:cfg.axisX-26,x2:cfg.xEnd,y1:ys(0),y2:ys(0),stroke:'#000','stroke-width':6});
  
  
  cfg.ticks.forEach(v=>{
    const t=add(g,'line',{x1:cfg.axisX-26,x2:cfg.axisX,y1:ys(v),y2:ys(v),stroke:'#000','stroke-width':5});
    
    
    const l=add(g,'text',{x:cfg.axisX-31,y:ys(v)+16,'font-size':45,'font-weight':700,'text-anchor':'end'},String(v));
    
    
  });
  cfg.brackets.forEach(b=>{
    const br=add(g,'path',{d:`M${b.x1} ${b.drop}V${b.y}H${b.x2}V${b.drop}`,stroke:'#000','stroke-width':8.5,fill:'none'});
    
    
    const st=add(g,'text',{x:b.sx,y:b.sy,'font-size':b.size,'font-weight':700,'text-anchor':'middle'},b.stars);
    
    
  });
}
drawBars({name:'facs',title:'TGFβ1-FACS',titleX:3202,titleY:140,yTitle:'% +ve cells',yTitleX:2786,yTitleY:553,yTitleSize:66,y0:834,unit:5.108,firstX:3043,step:184,axisX:2919,xEnd:3508,values:facsBarValues,errors:facsBarErrors,cats:facsBarCategories,ticks:facsTicks,dots:[facsDots786,facsDotsHela,facsDotsSf],offsets:[[0,0,0],[-48,0,48],[-48,0,48]],brackets:[{x1:3029,x2:3417,y:216,drop:246,sx:3202,sy:230,size:88,stars:'*'},{x1:3029,x2:3222,y:273,drop:304,sx:3117,sy:287,size:88,stars:'*'}]});
drawBars({name:'elisa',title:'TGFβ1 ELISA',titleX:2172,titleY:1079,yTitle:'ng/ml',yTitleX:1836,yTitleY:1481,yTitleSize:76,y0:1778,unit:122.8,firstX:2070,step:184.5,axisX:1948,xEnd:2563,values:elisaValues,errors:elisaErrors,cats:elisaCategories,ticks:elisaTicks,dots:[elisaDots786,elisaDotsHela,elisaDotsSf],offsets:[[-49,-16,16,49],[-24,24,-24,24],[-24,24,-24,24]],brackets:[{x1:2070,x2:2439,y:1153,drop:1186,sx:2234,sy:1174,size:100,stars:'****'},{x1:2070,x2:2256,y:1467,drop:1497,sx:2169,sy:1486,size:100,stars:'**'}]});

function drawScatter(cfg){
  const g=group(cfg.name+'-scatter');
  const xs=v=>cfg.xAt+(v-cfg.xRef)*cfg.xUnit;
  const ys=v=>cfg.yAt-(v-cfg.yRef)*cfg.yUnit;
  const title=add(g,'text',{x:cfg.titleX,y:1929,'font-size':64,'text-anchor':'middle'},cfg.title);
  
  
  cfg.points.forEach(p=>{
    const c=add(g,'circle',{cx:xs(p[0]).toFixed(1),cy:ys(p[1]).toFixed(1),r:5.2,fill:'#0cbc7e'});
    
    
  });
  const fit=add(g,'line',{x1:xs(cfg.fitX[0]),y1:ys(cfg.fitY[0]),x2:xs(cfg.fitX[1]),y2:ys(cfg.fitY[1]),stroke:'#2e7f5c','stroke-width':6,'stroke-linecap':'round'});
  
  
  const mask=add(g,'rect',{x:cfg.rhoX-cfg.rhoW/2-6,y:1978,width:cfg.rhoW+12,height:51,fill:'#fff'});
  
  
  const rho=add(g,'text',{x:cfg.rhoX,y:2013,'font-size':43,'text-anchor':'middle',textLength:cfg.rhoW,lengthAdjust:'spacingAndGlyphs'},cfg.rho);
  
  
  const frame=add(g,'rect',{x:cfg.left,y:cfg.top,width:cfg.right-cfg.left,height:cfg.bottom-cfg.top,fill:'none',stroke:'#7a7a7a','stroke-width':2.5});
  
  
  cfg.xTicks.forEach(v=>{
    const t=add(g,'line',{x1:xs(v),x2:xs(v),y1:cfg.bottom,y2:cfg.bottom+6,stroke:'#555','stroke-width':2});
    
    
    const l=add(g,'text',{x:xs(v),y:2606,'font-size':32,'text-anchor':'middle',fill:'#222'},String(v));
    
    
  });
  cfg.yTicks.forEach(v=>{
    const t=add(g,'line',{x1:cfg.left-6,x2:cfg.left,y1:ys(v),y2:ys(v),stroke:'#555','stroke-width':2});
    
    
    const l=add(g,'text',{x:cfg.left-9,y:ys(v)+11,'font-size':32,'text-anchor':'end',fill:'#222'},String(v));
    
    
  });
}
drawScatter({name:'kirc',title:'KIRC',titleX:489,left:145,right:796,top:1942,bottom:2569,xRef:8,xAt:218,xUnit:110.7,yRef:8,yAt:2104,yUnit:91.6,points:kircPoints,fitX:kircFitX,fitY:kircFitY,rho:'rho = -0.086, p = 0.0458',rhoX:458,rhoW:493,xTicks:[8,9,10,11,12,13],yTicks:[4,6,8]});
drawScatter({name:'cesc',title:'CESC',titleX:1326,left:966,right:1617,top:1946,bottom:2572,xRef:8,xAt:1207,xUnit:112.85,yRef:8,yAt:2000,yUnit:89.6,points:cescPoints,fitX:cescFitX,fitY:cescFitY,rho:'rho = 0.284, p = 4.97e-07',rhoX:1295,rhoW:518,xTicks:[6,8,10],yTicks:[2,4,6,8]});
drawScatter({name:'gbm',title:'GBM',titleX:2027,left:1689,right:2341,top:1946,bottom:2572,xRef:8,xAt:1905.5,xUnit:180.3,yRef:8,yAt:2030,yUnit:111.2,points:gbmPoints,fitX:gbmFitX,fitY:gbmFitY,rho:'rho = 0.394, p = 1.94e-07',rhoX:2017,rhoW:518,xTicks:[7,8,9,10],yTicks:[4,5,6,7,8]});
drawScatter({name:'hnsc',title:'HNSC',titleX:2770,left:2401,right:3053,top:1942,bottom:2569,xRef:7,xAt:2430,xUnit:105.8,yRef:9,yAt:1962,yUnit:117.8,points:hnscPoints,fitX:hnscFitX,fitY:hnscFitY,rho:'rho = 0.433, p < 2.2e-16',rhoX:2730,rhoW:491,xTicks:[7,8,9,10,11,12],yTicks:[4,5,6,7,8,9]});
drawScatter({name:'stad',title:'STAD',titleX:3487,left:3120,right:3771,top:1946,bottom:2572,xRef:6,xAt:3130.6,xUnit:127,yRef:9,yAt:1974.5,yUnit:105.7,points:stadPoints,fitX:stadFitX,fitY:stadFitY,rho:'rho = 0.32, p = 3.23e-11',rhoX:3437.5,rhoW:487,xTicks:[6,7,8,9,10,11],yTicks:[4,5,6,7,8,9]});

// correlation heatmap (C i)
const corrGroup=group('correlation-heatmap');
function corrColor(v){
  const k=Math.round(255*(1-Math.abs(v)));
  return v>=0?`rgb(255,${k},${k})`:`rgb(${k},${k},255)`;
}
const corrBand=(1128-410)/cancerTypes.length;
correlationValues.forEach((v,i)=>{
  const x=410+i*corrBand;
  const cell=add(corrGroup,'rect',{x:x,y:3078,width:corrBand+.5,height:187,fill:corrColor(v)});
  
  
  const bx=x+corrBand/2+26+(i===0?-1:(i===4?-5:(i===2?-11:0)));
  const l=add(corrGroup,'text',{'font-size':63,transform:`translate(${bx} 3054) rotate(-90) scale(1 1.13)`},cancerTypes[i]);
  
  
});
const corrFrame=add(corrGroup,'rect',{x:410,y:3078,width:718,height:187,rx:5,fill:'none',stroke:'#000','stroke-width':8});



// partial-correlation matrix (C ii)
const partGroup=group('partial-correlation-matrix');
function partColor(v){
  const t=Math.min(1,Math.abs(v));
  const to=v>=0?[255,48,30]:[30,0,120];
  return 'rgb('+to.map(c=>Math.round(255+(c-255)*t)).join(',')+')';
}
const partCx=i=>2641+i*125;
function drawPartialRow(vals,sig,top,rowName){
  vals.forEach((v,i)=>{
    const cx=partCx(i);
    if(sig[i]){
      const r=add(partGroup,'rect',{x:cx-53,y:top,width:106,height:108,fill:partColor(v)});
      
      
    }else if(v!==0){
      const c=partColor(v);
      const r=add(partGroup,'path',{d:`M${cx-52} ${top}H${cx+52}V${top+110}H${cx-52}ZM${cx-52} ${top}L${cx+52} ${top+110}M${cx+52} ${top}L${cx-52} ${top+110}`,fill:'none',stroke:c,'stroke-width':7});
      
      
    }
  });
}
drawPartialRow(cd4Partial,cd4Significant,2853,'cd4');
drawPartialRow(cd8Partial,cd8Significant,2985,'cd8');
const partAxis=add(partGroup,'line',{x1:2579,x2:3218,y1:3107,y2:3107,stroke:'#000','stroke-width':7});


partialLabels.forEach((s,i)=>{
  const cx=partCx(i);
  const t=add(partGroup,'line',{x1:cx,x2:cx,y1:3107,y2:3142,stroke:'#000','stroke-width':4});
  
  
  const bx=cx+28;
  const l=add(partGroup,'text',{'font-size':69,'text-anchor':'end',transform:`translate(${bx} 3173) rotate(-90) scale(1 1.19)`},s);
  
  
});
const partFrame=add(partGroup,'rect',{x:2552,y:2816,width:714,height:849,fill:'none',stroke:'#000','stroke-width':8});


</script>
</body>
</html>
